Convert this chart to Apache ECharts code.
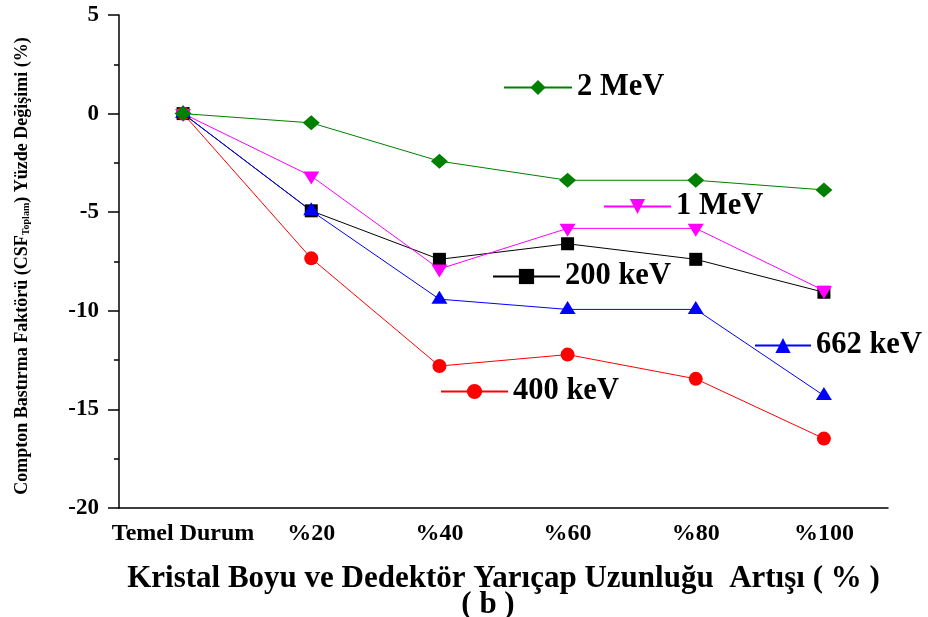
<!DOCTYPE html>
<html>
<head>
<meta charset="utf-8">
<script src="https://cdn.jsdelivr.net/npm/echarts@6/dist/echarts.min.js"></script>
<style>html,body{margin:0;padding:0;background:#fff}#c{width:928px;height:617px}</style>
</head>
<body>
<div id="c"></div>
<script>
const categories = ['Temel Durum', '%20', '%40', '%60', '%80', '%100'];
const yTicks = [-20, -15, -10, -5, 0, 5];
const s200keV = [0, -4.93, -7.39, -6.60, -7.39, -9.06];
const s400keV = [0, -7.34, -12.80, -12.22, -13.45, -16.48];
const s662keV = [0, -4.93, -9.41, -9.93, -9.93, -14.30];
const s1MeV = [0, -3.17, -7.88, -5.82, -5.82, -8.97];
const s2MeV = [0, -0.47, -2.41, -3.38, -3.38, -3.87];
const names = ['200 keV', '400 keV', '662 keV', '1 MeV', '2 MeV'];

const FONT = '"Liberation Serif", "Times New Roman", serif';
const chart = echarts.init(document.getElementById('c'), null, {renderer: 'canvas'});

function mkSeries(name, data, color, symbol, size, extra) {
  return Object.assign({
    name: name, type: 'line', data: data, xAxisIndex: 0,
    symbol: symbol, symbolSize: size,
    lineStyle: {color: color, width: 1},
    itemStyle: {color: color},
    emphasis: {disabled: true}
  }, extra || {});
}
function mkLegend(name, left, top, w) {
  return {
    data: [name], left: left, top: top, padding: 0,
    itemWidth: w, itemHeight: 19, selectedMode: false,
    textStyle: {fontFamily: FONT, fontWeight: 'bold', fontSize: 30.5, color: '#000'}
  };
}

chart.setOption({
  animation: false,
  backgroundColor: '#fff',
  grid: {left: 119, right: 40, top: 15, bottom: 109, containLabel: false, outerBoundsMode: 'none'},
  legend: [
    mkLegend(names[4], 503, 72, 68),
    mkLegend(names[3], 603, 191, 67),
    mkLegend(names[0], 492, 261, 67),
    mkLegend(names[2], 754, 330, 56),
    mkLegend(names[1], 440, 376, 67)
  ],
  xAxis: [{
    type: 'category', data: categories, boundaryGap: true, position: 'bottom',
    axisLine: {onZero: false, lineStyle: {color: '#000', width: 1.5}},
    axisTick: {alignWithLabel: true, length: 9, lineStyle: {color: '#000', width: 1.5}},
    axisLabel: {fontFamily: FONT, fontWeight: 'bold', fontSize: 24, color: '#000', margin: 14, interval: 0},
    splitLine: {show: false},
    name: 'Kristal Boyu ve Dedektör Yarıçap Uzunluğu  Artışı ( % )\n( b )    ',
    nameLocation: 'middle', nameGap: 58,
    nameTextStyle: {fontFamily: FONT, fontWeight: 'bold', fontSize: 31, color: '#000', lineHeight: 26}
  }, {
    type: 'category', data: categories, boundaryGap: true, position: 'bottom',
    axisLine: {show: false, onZero: false},
    axisTick: {length: 5, lineStyle: {color: '#000', width: 1.5}},
    axisLabel: {show: false}, splitLine: {show: false}
  }],
  yAxis: {
    type: 'value', min: yTicks[0], max: yTicks[yTicks.length - 1], interval: 5,
    axisLine: {show: true, onZero: false, lineStyle: {color: '#000', width: 1.5}},
    axisTick: {show: true, length: 11, lineStyle: {color: '#000', width: 1.5}},
    minorTick: {show: true, splitNumber: 2, length: 5, lineStyle: {color: '#000', width: 1.5}},
    splitLine: {show: false},
    axisLabel: {fontFamily: FONT, fontWeight: 'bold', fontSize: 23, color: '#000', margin: 20},
    name: 'Compton Bastırma Faktörü (CSF{sub|Toplam}) Yüzde Değişimi (%)  ',
    nameLocation: 'middle', nameGap: 88, nameRotate: 90,
    nameTextStyle: {
      fontFamily: FONT, fontWeight: 'bold', fontSize: 18, color: '#000',
      rich: {sub: {fontFamily: FONT, fontWeight: 'bold', fontSize: 10, color: '#000', verticalAlign: 'bottom', padding: [8, 0, 0, 0]}}
    }
  },
  series: [
    mkSeries(names[0], s200keV, '#000000', 'rect', [13, 13]),
    mkSeries(names[1], s400keV, '#ff0000', 'circle', 14),
    mkSeries(names[2], s662keV, '#0000ff', 'triangle', [16, 13], {symbolOffset: [0, -2]}),
    mkSeries(names[3], s1MeV, '#ff00ff', 'triangle', [16, 13], {symbolRotate: 180, symbolOffset: [0, 2]}),
    mkSeries(names[4], s2MeV, '#008000', 'diamond', [17, 15])
  ]
});
</script>
</body>
</html>
